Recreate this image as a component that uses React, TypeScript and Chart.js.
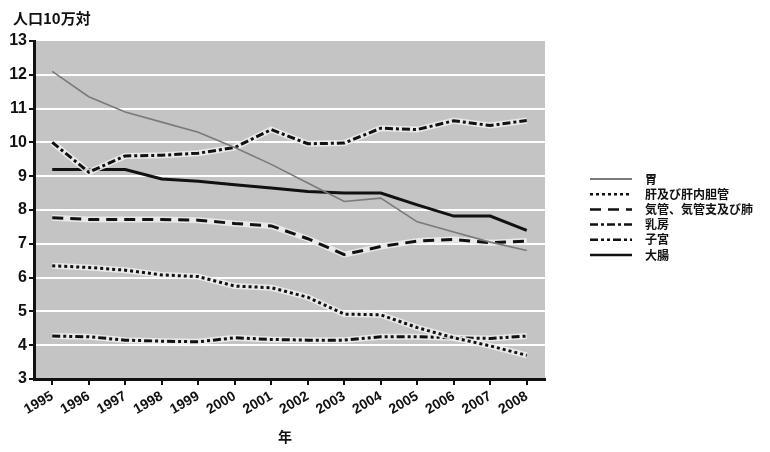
import React, { useEffect, useRef } from "react";
import { Chart, registerables } from "chart.js";

Chart.register(...registerables);

const years = ["1995","1996","1997","1998","1999","2000","2001","2002","2003","2004","2005","2006","2007","2008"];
const seriesNames = ["胃", "肝及び肝内胆管", "気管、気管支及び肺", "乳房", "子宮", "大腸"];
const stomach = [12.1, 11.35, 10.9, 10.6, 10.3, 9.85, 9.35, 8.8, 8.25, 8.35, 7.65, 7.35, 7.05, 6.8];
const liver = [6.35, 6.3, 6.22, 6.08, 6.03, 5.75, 5.7, 5.42, 4.92, 4.9, 4.52, 4.22, 3.98, 3.7];
const lung = [7.77, 7.72, 7.72, 7.72, 7.7, 7.6, 7.53, 7.15, 6.68, 6.92, 7.08, 7.13, 7.03, 7.08];
const breast = [10.0, 9.12, 9.6, 9.62, 9.68, 9.85, 10.38, 9.96, 9.98, 10.42, 10.38, 10.64, 10.5, 10.65];
const uterus = [4.27, 4.25, 4.15, 4.12, 4.1, 4.22, 4.17, 4.15, 4.15, 4.25, 4.25, 4.22, 4.2, 4.27];
const colon = [9.2, 9.2, 9.2, 8.92, 8.85, 8.75, 8.65, 8.55, 8.5, 8.5, 8.15, 7.82, 7.82, 7.4];

const styles = [
  { color: "#7a7a7a", width: 1.6, dash: [] as number[], halo: false },
  { color: "#111", width: 3, dash: [3, 3], halo: true },
  { color: "#111", width: 3, dash: [11, 7], halo: true },
  { color: "#111", width: 3, dash: [8, 3, 3, 3], halo: true },
  { color: "#111", width: 3, dash: [8, 3, 3, 3, 3, 3], halo: true },
  { color: "#111", width: 3, dash: [] as number[], halo: false },
];

const FONT = "'Liberation Sans', 'Noto Sans CJK JP', sans-serif";
const JFONT = "'Noto Sans CJK JP', sans-serif";

export default function App() {
  const ref = useRef<HTMLCanvasElement | null>(null);
  useEffect(() => {
    document.body.style.margin = "0";
    const data = [stomach, liver, lung, breast, uterus, colon];
    const bgPlugin = {
      id: "bg",
      beforeDraw(chart: any) {
        const { ctx, chartArea } = chart;
        ctx.save();
        ctx.fillStyle = "#c4c4c4";
        ctx.fillRect(chartArea.left + 2, chartArea.top, chartArea.right - chartArea.left - 2, chartArea.bottom - chartArea.top);
        ctx.restore();
      },
      beforeDatasetDraw(chart: any, args: any) {
        const i = args.index;
        if (!styles[i] || !styles[i].halo) return;
        const pts = args.meta.data;
        const { ctx } = chart;
        ctx.save();
        ctx.beginPath();
        pts.forEach((p: any, k: number) => (k === 0 ? ctx.moveTo(p.x, p.y) : ctx.lineTo(p.x, p.y)));
        ctx.strokeStyle = "rgba(240,240,240,0.85)";
        ctx.lineWidth = 6;
        ctx.lineJoin = "round";
        ctx.stroke();
        ctx.restore();
      },
      afterDraw(chart: any) {
        const { ctx } = chart;
        ctx.save();
        ctx.fillStyle = "#111";
        ctx.font = "bold 15px " + JFONT;
        ctx.textBaseline = "middle";
        ctx.textAlign = "left";
        ctx.fillText("人口10万対", 13, 18);
        ctx.textAlign = "center";
        ctx.font = "bold 14px " + JFONT;
        ctx.fillText("年", 285, 437);
        const y0 = 179;
        const dy = 15.2;
        seriesNames.forEach((n, i) => {
          const y = y0 + i * dy;
          const s = styles[i];
          ctx.beginPath();
          ctx.setLineDash(s.dash);
          ctx.lineWidth = i === 0 ? 2 : 2.5;
          ctx.strokeStyle = s.color;
          ctx.moveTo(590, y);
          ctx.lineTo(632, y);
          ctx.stroke();
          ctx.setLineDash([]);
          ctx.textAlign = "left";
          ctx.font = "bold 12px " + JFONT;
          ctx.fillStyle = "#111";
          ctx.fillText(n, 645, y);
        });
        ctx.restore();
      },
    };
    const chart = new Chart(ref.current!, {
      type: "line",
      data: {
        labels: years,
        datasets: seriesNames.map((n, i) => ({
          label: n,
          data: data[i],
          borderColor: styles[i].color,
          borderWidth: styles[i].width,
          borderDash: styles[i].dash,
          pointRadius: 0,
          tension: 0,
          fill: false,
        })),
      },
      options: {
        animation: false,
        responsive: false,
        layout: { padding: { top: 41, right: 225, left: 3, bottom: 0 } },
        plugins: { legend: { display: false }, title: { display: false }, tooltip: { enabled: false } },
        scales: {
          x: {
            offset: true,
            border: { color: "#111", width: 3 },
            grid: { drawOnChartArea: false, tickColor: "#111", tickLength: 6, lineWidth: 2 },
            ticks: {
              color: "#111",
              font: { family: FONT, size: 14, weight: "bold" },
              maxRotation: 30,
              minRotation: 30,
              autoSkip: false,
              padding: 3,
            },
            afterFit(scale: any) { scale.height = 73; },
          },
          y: {
            min: 3,
            max: 13,
            border: { color: "#111", width: 3 },
            grid: {
              color: (c: any) => (c.tick && Number.isInteger(c.tick.value) && c.tick.value !== 3 && c.tick.value !== 13 ? "#ffffff" : "rgba(0,0,0,0)"),
              lineWidth: 2,
              tickColor: "#111",
              tickLength: 5,
            },
            ticks: {
              stepSize: 0.5,
              color: "#111",
              font: { family: FONT, size: 16, weight: "bold" },
              padding: 2,
              callback: (v: any) => (Number.isInteger(v) ? String(v) : ""),
            },
            afterFit(scale: any) { scale.width = 31; },
          },
        },
      },
      plugins: [bgPlugin],
    });
    return () => chart.destroy();
  }, []);
  return (
    <div style={{ position: "absolute", left: 0, top: 0, width: 770, height: 452, background: "#fff" }}>
      <canvas ref={ref} width={770} height={452} style={{ width: 770, height: 452 }} />
    </div>
  );
}
